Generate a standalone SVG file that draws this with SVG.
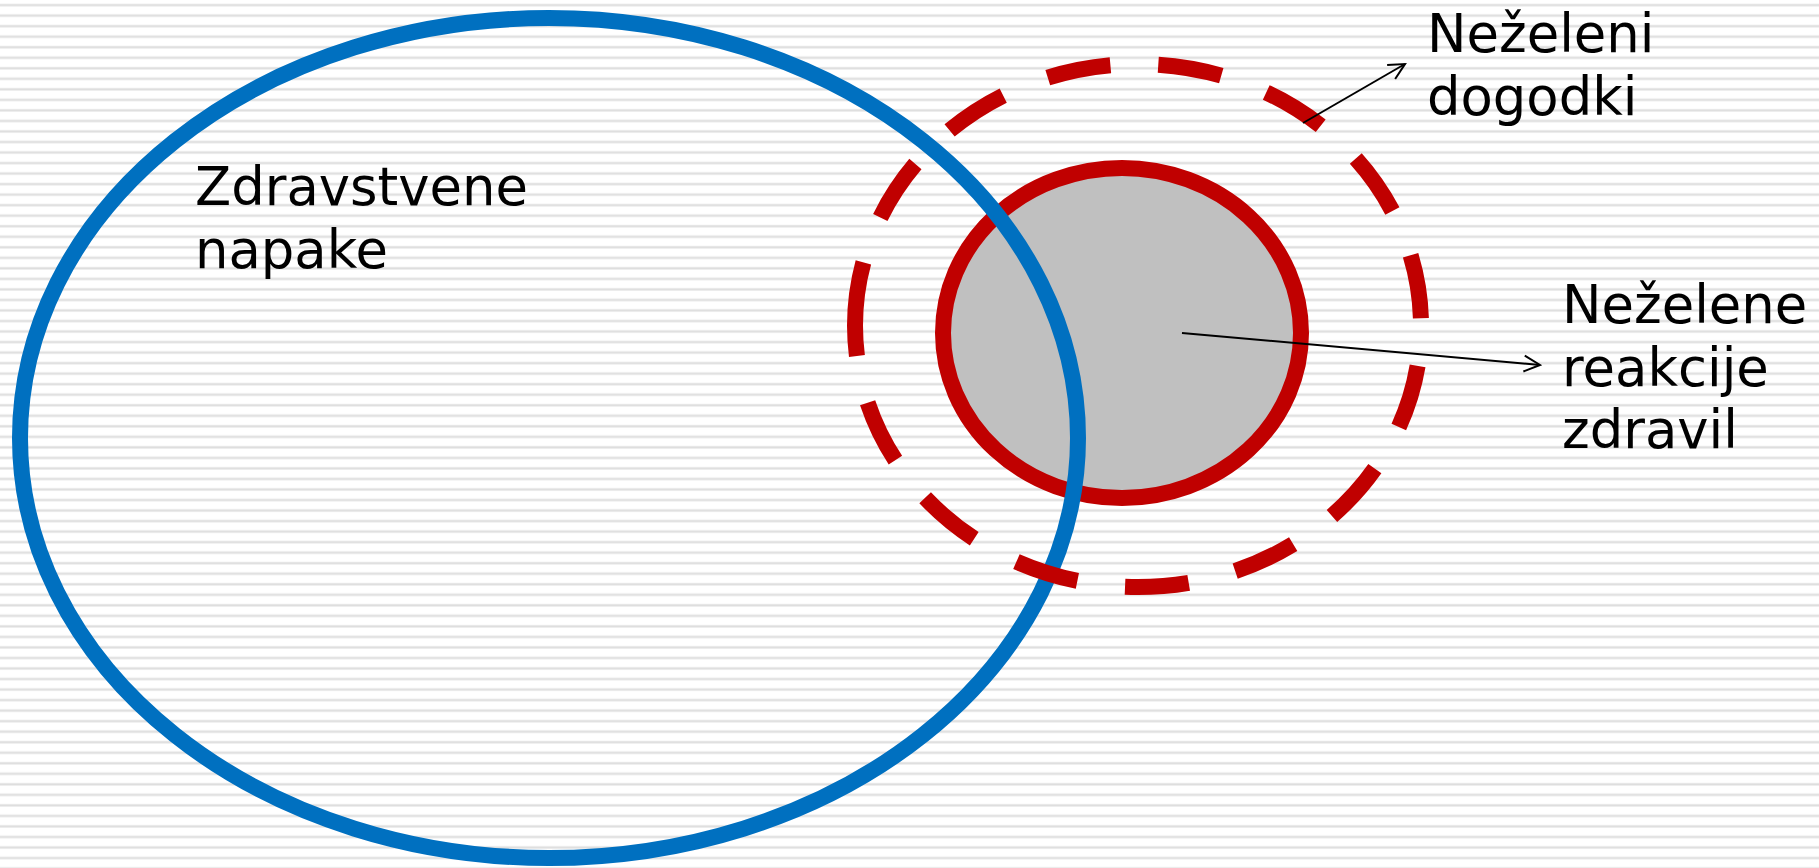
<svg xmlns="http://www.w3.org/2000/svg" width="1819" height="868" viewBox="0 0 1819 868">
  <defs>
    <pattern id="stripes" x="0" y="0" width="40" height="10.53" patternUnits="userSpaceOnUse">
      <rect x="0" y="3.6" width="40" height="3" fill="#efefef"/>
      <rect x="0" y="4.3" width="40" height="1.6" fill="#dedede"/>
    </pattern>
    <marker id="open" viewBox="0 0 20 20" refX="18" refY="10" markerWidth="20" markerHeight="20" markerUnits="userSpaceOnUse" orient="auto">
      <path d="M2,2 L18,10 L2,18" fill="none" stroke="#000" stroke-width="2"/>
    </marker>
    <style>
      .lbl { font-family: "DejaVu Sans", Verdana, sans-serif; font-size: 52.8px; fill: #000; }
      .conn { stroke: #000; stroke-width: 2; fill: none; marker-end: url(#open); }
    </style>
  </defs>
  <rect x="0" y="0" width="1819" height="868" fill="#ffffff"/>
  <rect x="0" y="0" width="1819" height="868" fill="url(#stripes)"/>

  <g id="node-nezelene-reakcije">
    <ellipse cx="1122" cy="333" rx="179" ry="165" fill="#c0c0c0" stroke="#c00000" stroke-width="16"/>
  </g>

  <g id="node-zdravstvene-napake">
    <ellipse cx="549" cy="438" rx="529" ry="420" fill="none" stroke="#0070c0" stroke-width="16"/>
    <text class="lbl" x="195" y="205">Zdravstvene</text>
    <text class="lbl" x="195" y="268">napake</text>
  </g>

  <g id="node-nezeleni-dogodki">
    <path d="M855,325.5 A283,261.5 0 0 1 1421,325.5 A283,261.5 0 0 1 855,325.5" fill="none" stroke="#c00000" stroke-width="16" stroke-dasharray="64 48"/>
    <text class="lbl" x="1427" y="52">Neželeni</text>
    <text class="lbl" x="1427" y="115">dogodki</text>
  </g>

  <g id="label-nezelene-reakcije">
    <text class="lbl" x="1562" y="323">Neželene</text>
    <text class="lbl" x="1562" y="386">reakcije</text>
    <text class="lbl" x="1562" y="448">zdravil</text>
  </g>

  <g id="connectors">
    <line class="conn" x1="1303" y1="123" x2="1405" y2="64"/>
    <line class="conn" x1="1182" y1="333" x2="1540" y2="365"/>
  </g>
</svg>
